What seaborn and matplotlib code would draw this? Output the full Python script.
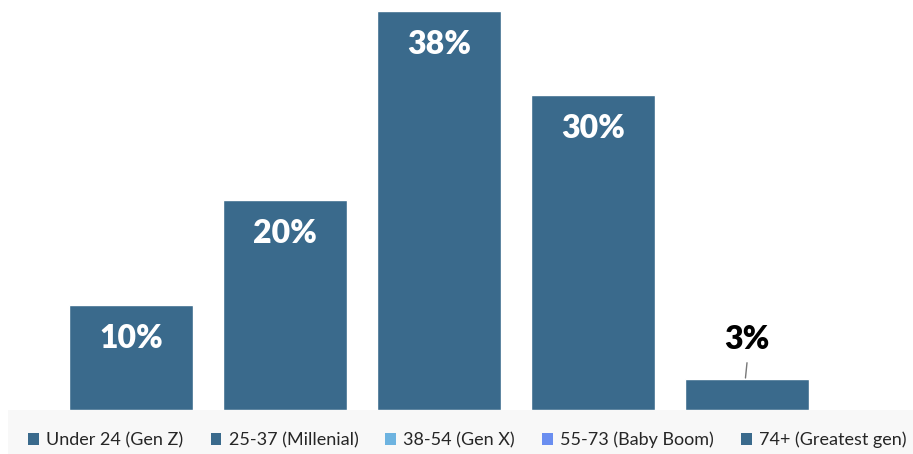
import pandas as pd
import matplotlib.pyplot as plt
import seaborn as sns
from matplotlib.patches import Patch, Rectangle

groups = ['Under 24 (Gen Z)', '25-37 (Millenial)', '38-54 (Gen X)',
          '55-73 (Baby Boom)', '74+ (Greatest gen)']
shares = [10, 20, 38, 30, 3]
legend_colors = ['#3a6a8c', '#3a6a8c', '#6db3e0', '#6a8ef0', '#3a6a8c']
bar_color = '#3a6a8c'

df = pd.DataFrame({'group': groups, 'share': shares})

sns.set_style('white')
plt.rcParams['font.family'] = ['Lato', 'DejaVu Sans']

fig = plt.figure(figsize=(9.13, 4.54), dpi=100)
# light grey band under the bars, behind the legend
fig.patches.append(Rectangle((8 / 913, 0), 1, 44 / 454, transform=fig.transFigure,
                             facecolor='#f8f8f8', edgecolor='none', zorder=0))
ax = fig.add_axes([54 / 913, 44 / 454, 770 / 913, 399 / 454])
ax.patch.set_alpha(0)

sns.barplot(data=df, x='group', y='share', color=bar_color, width=0.8,
            saturation=1, ax=ax)
ax.set_xlim(-0.5, 4.5)
ax.set_ylim(0, 38)
ax.axis('off')

for i, v in enumerate(shares):
    if v >= 5:
        ax.text(i, v - 3.2, f'{v}%', ha='center', va='center', color='white',
                fontsize=23, fontweight='heavy')
    else:
        ax.text(i, v + 3.7, f'{v}%', ha='center', va='center', color='black',
                fontsize=23, fontweight='heavy')
        ax.plot([i, i - 0.01], [v + 1.5, v + 0.05], color='#777777', lw=1)

handles = [Patch(facecolor=c, edgecolor='none') for c in legend_colors]
fig.legend(handles, groups, loc='center', bbox_to_anchor=(0.512, 14 / 454),
           ncol=5, frameon=False, fontsize=13, handlelength=0.6, handleheight=0.6,
           handletextpad=0.4, columnspacing=1.5)

fig.savefig('out.png', dpi=100)
